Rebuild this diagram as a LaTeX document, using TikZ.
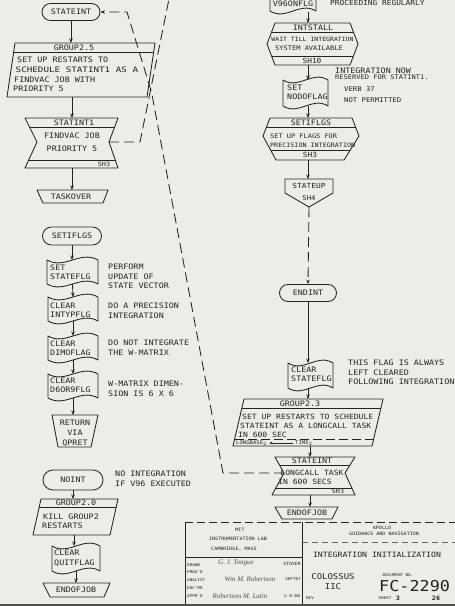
\documentclass[tikz,border=0pt]{standalone}
\usepackage{fontspec}
\usepackage{graphicx}
\setmainfont{DejaVu Sans}
\newfontfamily\lett{DejaVu Sans Mono}[FakeStretch=1.12]
\newfontfamily\sigf{Liberation Serif}
\usetikzlibrary{shapes.misc,arrows.meta}
\definecolor{paper}{RGB}{236,236,233}
\definecolor{ink}{RGB}{35,35,35}
\newcommand\fs[2]{\lett\fontsize{#1}{#2}\selectfont}
\tikzset{
 ln/.style={draw=ink,line width=0.85pt,line join=round},
 thin/.style={draw=ink,line width=0.6pt},
 arr/.style={ln,-{Stealth[length=4.5pt,width=3.5pt]}},
 dsh/.style={ln,dash pattern=on 10pt off 5pt},
 oval/.style={rounded rectangle,ln,inner sep=0pt,text=ink,font=\fs{7.5}{9}},
 tx/.style={inner sep=0pt,text=ink,font=\fs{7.5}{9}},
 txl/.style={tx,anchor=west},
 nt/.style={tx,anchor=north west,align=left,font=\fs{7.5}{9.5}},
 sm/.style={inner sep=0pt,text=ink,font=\fs{4.5}{5}},
 sg/.style={inner sep=0pt,text=ink!80,font=\sigf\itshape\fontsize{7}{7}\selectfont},
}
\newcommand\wavy[5]{%
 \draw[ln] (#2,#3) .. controls ({#2+0.35*(#4-#2)},{#3+10}) and ({#2+0.65*(#4-#2)},{#3-10}) .. (#4,#3)
   -- (#4,#5) .. controls ({#2+0.65*(#4-#2)},{#5-10}) and ({#2+0.35*(#4-#2)},{#5+10}) .. (#2,#5) -- cycle;
 \coordinate (#1-n) at ({(#2+#4)/2},#3);
 \coordinate (#1-s) at ({(#2+#4)/2},#5);}
\begin{document}
\begin{tikzpicture}[x=1pt,y=-1pt]
\fill[paper] (0,0) rectangle (455,606);
\useasboundingbox (0,0) rectangle (455,606);

%================ LEFT COLUMN =================
\node[oval,minimum width=58pt,minimum height=17pt] (stateint) at (71,12) {STATEINT};

% GROUP2.5
\draw[ln] (15,43) -- (155,43) -- (147,97) -- (7,97) -- cycle;
\draw[ln] (13.7,52) -- (153.7,52);
\coordinate (g25n) at (71,43); \coordinate (g25s) at (72,97);
\node[tx] (g25h) at (74,48) {GROUP2.5};
\node[txl] (g25a) at (17,60) {SET UP RESTARTS TO};
\node[txl] (g25b) at (15.5,70) {\scalebox{1.1}[1]{SCHEDULE STATINT1 AS A}};
\node[txl] (g25c) at (14,80) {FINDVAC JOB WITH};
\node[txl] (g25d) at (13,89) {PRIORITY 5};

% STATINT1 (job)
\draw[ln] (25,118) -- (118,118) -- (109,142) -- (118,168) -- (25,168) -- (37,142) -- cycle;
\draw[ln] (29.5,127) -- (114.6,127);
\draw[ln] (28.7,160) -- (115.2,160);
\coordinate (st1n) at (72,118); \coordinate (st1s) at (72,168); \coordinate (st1r) at (109,142);
\node[tx] (st1h) at (74,122.5) {STATINT1};
\node[tx] (st1a) at (72,136) {FINDVAC JOB};
\node[tx] (st1b) at (72,149) {PRIORITY 5};
\node[sm,font=\fs{6}{6}] (st1c) at (104,164) {SH3};

% TASKOVER
\draw[ln] (37,190) -- (108,190) -- (103,203) -- (43,203) -- cycle;
\coordinate (tkon) at (72,190);
\node[tx] (tko) at (71,196.5) {TASKOVER};

% SETIFLGS
\node[oval,minimum width=59pt,minimum height=18pt] (setiflgs) at (72,236) {SETIFLGS};

\wavy{ssf}{47}{260}{98}{284}
\node[txl] (ssfa) at (50,268) {SET};
\node[txl] (ssfb) at (50,277) {STATEFLG};
\wavy{cit}{48}{297}{98}{321}
\node[txl] (cita) at (50,305.5) {CLEAR};
\node[txl] (citb) at (50,314.5) {INTYPFLG};
\wavy{cdf}{48}{336}{98}{360}
\node[txl] (cdfa) at (50,343.5) {CLEAR};
\node[txl] (cdfb) at (50,352.5) {DIMOFLAG};
\wavy{c69}{48}{374}{98}{398}
\node[txl] (c69a) at (50,381) {CLEAR};
\node[txl] (c69b) at (50,390) {D6OR9FLG};

% RETURN VIA QPRET
\draw[ln] (52,415) -- (98,415) -- (91,447) -- (58,447) -- cycle;
\coordinate (retn) at (73,415);
\node[tx] (reta) at (75,423) {RETURN};
\node[tx] (retb) at (75,433) {VIA};
\node[tx] (retc) at (75,443) {QPRET};

% notes left
\node[nt] (n1) at (108,264.2) {PERFORM\\UPDATE OF\\STATE VECTOR};
\node[nt] (n2) at (108,303.2) {DO A PRECISION\\INTEGRATION};
\node[nt] (n3) at (108,340.2) {DO NOT INTEGRATE\\THE W-MATRIX};
\node[nt] (n4) at (108,381.2) {W-MATRIX DIMEN-\\SION IS 6 X 6};
\node[nt] (n5) at (115,471.2) {NO INTEGRATION\\IF V96 EXECUTED};

% NOINT branch
\node[oval,minimum width=60pt,minimum height=20pt] (noint) at (73,480) {NOINT};
\draw[ln] (41,499) -- (118,499) -- (110,535) -- (33,535) -- cycle;
\draw[ln] (39.2,507) -- (116.2,507);
\coordinate (g20n) at (74,499); \coordinate (g20s) at (74,535);
\node[tx] (g20h) at (76,503) {GROUP2.0};
\node[txl] (g20a) at (43,517) {KILL GROUP2};
\node[txl] (g20b) at (42,526) {RESTARTS};
\wavy{cqf}{52}{546}{100}{571}
\node[txl] (cqfa) at (54,553) {CLEAR};
\node[txl] (cqfb) at (54,563) {QUITFLAG};
\draw[ln] (43,583) -- (110,583) -- (104,597) -- (50,597) -- cycle;
\coordinate (eoj1n) at (76,583);
\node[tx] (eoj1) at (76,590) {ENDOFJOB};

% left connectors
\draw[arr] (stateint.south) -- (g25n);
\draw[arr] (g25s) -- (st1n);
\draw[arr] (st1s) -- (tkon);
\draw[arr] (setiflgs.south) -- (setiflgs.south |- ssf-n);
\draw[arr] (ssf-s) -- (cit-n);
\draw[arr] (cit-s) -- (cdf-n);
\draw[arr] (cdf-s) -- (c69-n);
\draw[arr] (c69-s) -- (retn);
\draw[arr] (noint.south) -- (noint.south |- g20n);
\draw[arr] (g20s) -- (g20s |- cqf-n);
\draw[arr] (cqf-s) -- (eoj1n);

%================ RIGHT COLUMN =================
\wavy{v96}{270}{-20}{316}{11}
\coordinate (v96o) at (308,12);
\node[tx] (v96) at (293,4) {V96ONFLG};
\node[nt,font=\fs{7}{8}] (n6) at (330,0) {PROCEEDING REGULARLY};

% INTSTALL
\draw[ln] (275,23) -- (350,23) -- (358,44) -- (350,65) -- (275,65) -- (267,44) -- cycle;
\draw[ln] (271.6,32) -- (353.4,32);
\draw[ln] (271.6,56) -- (353.4,56);
\coordinate (intn) at (308,23); \coordinate (ints) at (308,65);
\node[tx] (inth) at (313,27.5) {INTSTALL};
\node[tx,font=\fs{5.8}{6}] (inta) at (312.5,39) {WAIT TILL INTEGRATION};
\node[tx,font=\fs{6.3}{6}] (intb) at (309,48) {SYSTEM AVAILABLE};
\node[tx,font=\fs{7}{7}] (intc) at (312,61) {SH10};

\wavy{nodo}{283}{80}{328}{106}
\node[txl] (nodoa) at (287,87.5) {SET};
\node[txl] (nodob) at (287,97) {NODOFLAG};
\node[nt,font=\fs{6.3}{6.5}] (n7) at (335,67.5) {{\fs{7.5}{6.5}INTEGRATION NOW}\\RESERVED FOR STATINT1.};
\node[nt,font=\fs{6.5}{11}] (n8) at (344,86.5) {VERB 37\\NOT PERMITTED};

% SETIFLGS
\draw[ln] (270,118) -- (352,118) -- (359,136) -- (344,160) -- (276,160) -- (263,136) -- cycle;
\draw[ln] (266.5,127) -- (355.5,127);
\draw[ln] (270.6,150) -- (350.3,150);
\coordinate (sfgn) at (308,118); \coordinate (sfgs) at (308,160);
\node[tx] (sfgh) at (311,122.5) {SETIFLGS};
\node[txl,font=\fs{6.2}{6}] (sfga) at (270,136) {SET UP FLAGS FOR};
\node[txl,font=\fs{6}{6}] (sfgb) at (270,145) {PRECISION INTEGRATION};
\node[tx,font=\fs{7}{7}] (sfgc) at (310,155) {SH3};

% STATEUP offpage
\draw[ln] (285,179) -- (333,179) -- (333,193) -- (309,207) -- (285,193) -- cycle;
\coordinate (stun) at (308,179); \coordinate (stus) at (309,207);
\node[tx,font=\fs{7}{7}] (stu) at (309,186) {STATEUP};
\node[tx,font=\fs{6.5}{7}] (stub) at (309,198.5) {SH4};

\node[oval,minimum width=57pt,minimum height=17pt] (endint) at (308,293) {ENDINT};

\wavy{csf}{288}{363}{333}{388}
\node[txl] (csfa) at (291,369.5) {CLEAR};
\node[txl] (csfb) at (291,379) {STATEFLG};
\node[nt] (n9) at (348,360.2) {THIS FLAG IS ALWAYS\\LEFT CLEARED\\FOLLOWING INTEGRATION};

% GROUP2.3
\draw[ln] (244,399) -- (383,399) -- (372,446) -- (233,446) -- cycle;
\draw[ln] (241.9,408) -- (380.9,408);
\draw[thin,dash pattern=on 9pt off 4pt] (234.6,439) -- (373.6,439);
\coordinate (g23n) at (308,399); \coordinate (g23s) at (310,446);
\node[tx] (g23h) at (300,403.5) {GROUP2.3};
\node[txl,font=\fs{7.2}{9}] (g23a) at (242,417) {SET UP RESTARTS TO SCHEDULE};
\node[txl,font=\fs{7.2}{9}] (g23b) at (240,426) {STATEINT AS A LONGCALL TASK};
\node[txl,font=\fs{7.2}{9}] (g23c) at (238,434.5) {IN 600 SEC};
\node[txl,font=\fs{5}{5}] (lb) at (236,443) {LONGBASE$_{2}$};
\node[txl,font=\fs{5}{5}] (tm) at (295,443) {TIME$_{2}$};
\draw[thin,-{Stealth[length=3pt,width=2.5pt]}] (tm.west) ++(-2,0) -- ([xshift=2pt]lb.east);

% STATEINT longcall
\draw[ln] (275,457) -- (355,457) -- (345,473) -- (355,495) -- (272,495) -- (284,473) -- cycle;
\draw[ln] (279.5,465) -- (350,465);
\draw[ln] (275.8,488) -- (351.8,488);
\coordinate (lcn) at (310,457); \coordinate (lcs) at (310,495); \coordinate (lcl) at (284,473);
\node[tx] (lch) at (312,461) {STATEINT};
\node[tx,font=\fs{7.2}{9}] (lca) at (312,472.5) {LONGCALL TASK};
\node[tx,font=\fs{7.2}{9}] (lcb) at (305,482) {IN 600 SECS};
\node[tx,font=\fs{6}{6}] (lcc) at (338,491.5) {SH3};

\draw[ln] (275,507) -- (338,507) -- (332,519) -- (282,519) -- cycle;
\coordinate (eoj2n) at (310,507);
\node[tx] (eoj2) at (307,513) {ENDOFJOB};

% right connectors
\draw[arr] (v96o) -- (intn);
\draw[arr] (ints) -- (ints |- nodo-n);
\draw[arr] (ints |- nodo-s) -- (sfgn);
\draw[arr] (sfgs) -- (stun);
\draw[dsh,-{Stealth[length=4.5pt,width=3.5pt]}] (stus) -- (endint.north);
\draw[arr] (endint.south) -- (endint.south |- csf-n);
\draw[arr] (endint.south |- csf-s) -- (g23n);
\draw[arr] (g23s) -- (lcn);
\draw[arr] (lcs) -- (eoj2n);

% dashed long links
\coordinate (a1) at (223,473); \coordinate (a2) at (151.5,92); \coordinate (a3) at (127,12);
\draw[dsh,-{Stealth[length=4.5pt,width=3.5pt]}] (lcl) -- (a1) -- (a2) -- (a3) -- (stateint.east);
\coordinate (b1) at (140,142); \coordinate (b2) at (170,-6);
\draw[dsh] (st1r) -- (b1) -- (b2);

%================ TITLE BLOCK =================
\draw[thin,dash pattern=on 8pt off 4pt] (185,522) -- (455,522);
\draw[thin] (185,522) -- (185,606);
\draw[thin] (302,522) -- (302,606);
\draw[thin] (185,557) -- (302,557);
\draw[draw=ink!70,line width=0.4pt,dash pattern=on 6pt off 4pt] (302,542) -- (455,542);
\draw[draw=ink!80,line width=1.6pt] (0,605) -- (455,605);
\node[sm] (t1) at (240,530) {MIT};
\node[sm] (t2) at (238,539) {INSTRUMENTATION LAB};
\node[sm] (t3) at (234,549.5) {CAMBRIDGE, MASS};
\node[sm,anchor=west,font=\fs{3.8}{4}] (t4) at (187,565) {DRAWN};
\node[sm,anchor=west,font=\fs{3.8}{4}] (t5) at (187,572.5) {PROG'D};
\node[sm,anchor=west,font=\fs{3.8}{4}] (t6) at (187,580) {ANALYST};
\node[sm,anchor=west,font=\fs{3.8}{4}] (t7) at (187,588) {DOC'MR};
\node[sm,anchor=west,font=\fs{3.8}{4}] (t8) at (187,596) {APPR'D};
\node[sg] (s1) at (236,563) {G. J. Tongue};
\node[sm,font=\fs{4.3}{5}] (t9) at (292,564) {STOVER};
\node[sg] (s2) at (250,579) {Wm M. Robertson};
\node[sm,font=\fs{3.8}{4}] (t10) at (293,579) {SEPT67};
\node[sg] (s3) at (240,596.5) {Robertson M. Latin};
\node[sm,font=\fs{4}{4}] (t11) at (292,596) {1-5-68};
\node[sm] (t12) at (382,527.5) {APOLLO};
\node[sm] (t13) at (384,534) {GUIDANCE AND NAVIGATION};
\node[tx,font=\fs{7.3}{8}] (t14) at (377,555) {INTEGRATION INITIALIZATION};
\node[tx,font=\fs{8}{8}] (t15) at (333,577) {COLOSSUS};
\node[tx,font=\fs{8}{8}] (t16) at (333,587) {IIC};
\node[sm,font=\fs{3.8}{4}] (t17) at (398,575) {DOCUMENT NO.};
\node[tx,font=\fs{15}{15},anchor=west] (t18) at (379,586.5) {FC-2290};
\node[sm,font=\fs{3.8}{4}] (t19) at (310,598) {REV};
\node[sm,font=\fs{3.8}{4}] (t20) at (385,598.5) {SHEET};
\node[tx,font=\fs{6}{6}\bfseries] (t21) at (398,598.5) {3};
\node[tx,font=\fs{6}{6}\bfseries] (t22) at (436,598.5) {26};
\end{tikzpicture}
\end{document}
